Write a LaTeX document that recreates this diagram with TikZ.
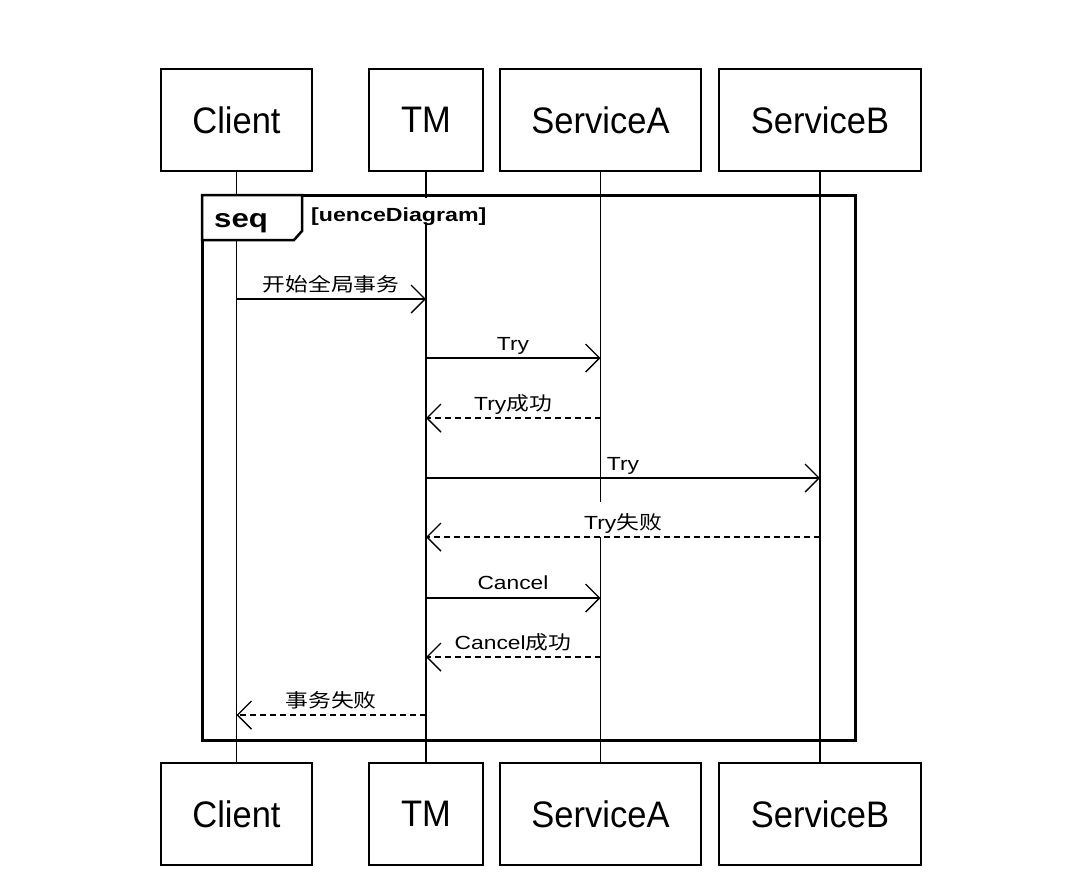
\documentclass[tikz,border=0pt]{standalone}
\usepackage{fontspec}
\usepackage{graphicx}
\setmainfont{Liberation Sans}
\newfontfamily\cjk{Noto Sans CJK SC}
\usetikzlibrary{arrows.meta}
\newcommand\msgtxt[1]{\scalebox{1.2}[1]{\fontsize{19}{22}\selectfont #1}}
\newcommand\actortxt[1]{\scalebox{1}[1.07]{\fontsize{34.5}{40}\selectfont #1}}
\tikzset{
  actor/.style={draw, line width=1.5pt, inner sep=0pt, minimum height=102pt, fill=white},
  lifeline/.style={line width=1.6pt},
  msglbl/.style={anchor=base, fill=white, inner xsep=1pt, inner ysep=0pt, text height=27pt, text depth=8pt},
  call/.style={line width=1.5pt, -{Straight Barb[length=14pt,width=28pt,line width=1.4pt]}},
  reply/.style={call, dash pattern=on 6pt off 4pt},
}
\begin{document}
\begin{tikzpicture}[x=1pt,y=-1pt]
\useasboundingbox (0,0) rectangle (1080,884);
% header and footer boxes
\node[actor, minimum width=151pt] (clientT) at (236.5,120) {\actortxt{Client}};
\node[actor, minimum width=114pt] (tmT) at (426,120) {\actortxt{TM}};
\node[actor, minimum width=201pt] (saT) at (600.5,120) {\actortxt{ServiceA}};
\node[actor, minimum width=202pt] (sbT) at (820,120) {\actortxt{ServiceB}};
\node[actor, minimum width=151pt] (clientB) at (236.5,814) {\actortxt{Client}};
\node[actor, minimum width=114pt] (tmB) at (426,814) {\actortxt{TM}};
\node[actor, minimum width=201pt] (saB) at (600.5,814) {\actortxt{ServiceA}};
\node[actor, minimum width=202pt] (sbB) at (820,814) {\actortxt{ServiceB}};
% lifelines
\draw[lifeline] (clientT.south) -- (clientB.north);
\draw[lifeline] (tmT.south) -- (tmB.north);
\draw[lifeline] (saT.south) -- (saB.north);
\draw[lifeline] (sbT.south) -- (sbB.north);
% frame
\node[anchor=base west, fill=white, inner xsep=1pt, inner ysep=0pt, text height=23pt, text depth=2pt] (framelbl) at (310,221)
  {\scalebox{1.22}[1]{\fontsize{19}{22}\selectfont\bfseries [uenceDiagram]}};
\draw[line width=3pt] (202,195) rectangle (855,740);
\draw[line width=2.5pt, fill=white] (202,195) -- (302,195) -- (302,231) -- (294,240) -- (202,240) -- cycle;
\node[anchor=base west, inner sep=0pt] (seqlbl) at (214,227) {\scalebox{1.2}[1]{\fontsize{26}{28}\selectfont\bfseries seq}};
% message end points
\coordinate (c1) at (236.5,299); \coordinate (t1) at (426,299);
\coordinate (t2) at (426,358); \coordinate (a2) at (600.5,358);
\coordinate (a3) at (600.5,418); \coordinate (t3) at (426,418);
\coordinate (t4) at (426,478); \coordinate (b4) at (820,478);
\coordinate (b5) at (820,537); \coordinate (t5) at (426,537);
\coordinate (t6) at (426,598); \coordinate (a6) at (600.5,598);
\coordinate (a7) at (600.5,657); \coordinate (t7) at (426,657);
\coordinate (t8) at (426,715); \coordinate (c8) at (236.5,715);
% labels
\node[msglbl] (l1) at (331,291) {\msgtxt{\cjk 开始全局事务}};
\node[msglbl] (l2) at (513,350) {\msgtxt{Try}};
\node[msglbl] (l3) at (513,410) {\msgtxt{Try{\cjk 成功}}};
\node[msglbl] (l4) at (623,470) {\msgtxt{Try}};
\node[msglbl] (l5) at (623,529) {\msgtxt{Try{\cjk 失败}}};
\node[msglbl] (l6) at (513,589) {\msgtxt{Cancel}};
\node[msglbl] (l7) at (513,649) {\msgtxt{Cancel{\cjk 成功}}};
\node[msglbl] (l8) at (331,707) {\msgtxt{\cjk 事务失败}};
% messages
\draw[call] (c1) -- (t1);
\draw[call] (t2) -- (a2);
\draw[reply] (a3) -- (t3);
\draw[call] (t4) -- (b4);
\draw[reply] (b5) -- (t5);
\draw[call] (t6) -- (a6);
\draw[reply] (a7) -- (t7);
\draw[reply] (t8) -- (c8);
\end{tikzpicture}
\end{document}
